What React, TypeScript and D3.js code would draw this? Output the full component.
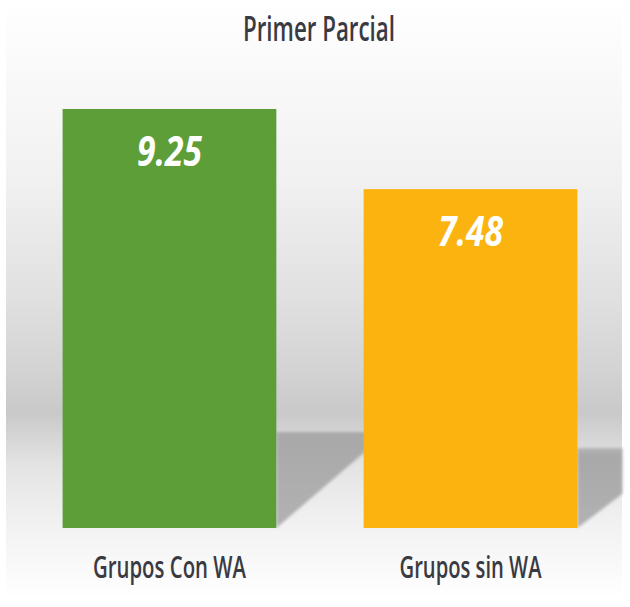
import React, { useEffect, useRef } from "react";
import * as d3 from "d3";

const categories = ["Grupos Con WA", "Grupos sin WA"];
const values = [9.25, 7.48];
const colors = ["#5d9e38", "#fbb30f"];
const title = "Primer Parcial";

const width = 630;
const height = 607;
const baseY = 528;

export default function App() {
  const ref = useRef<SVGSVGElement>(null);

  useEffect(() => {
    const svg = d3.select(ref.current);
    svg.selectAll("*").remove();

    const x = d3
      .scaleBand()
      .domain(categories)
      .range([20, 620])
      .paddingInner(0.29)
      .paddingOuter(0.1415);
    const y = d3.scaleLinear().domain([0, 10]).range([baseY, 75]);

    const defs = svg.append("defs");
    const bg = defs
      .append("linearGradient")
      .attr("id", "bg")
      .attr("x1", "0")
      .attr("y1", "0")
      .attr("x2", "0")
      .attr("y2", "1");
    [
      [0, "#ffffff"],
      [0.3, "#f1f1f1"],
      [0.5, "#e0e0e0"],
      [0.62, "#d3d3d3"],
      [0.69, "#c9c9c9"],
      [0.78, "#e4e4e4"],
      [0.88, "#f2f2f2"],
      [1, "#ffffff"],
    ].forEach(([o, c]) => bg.append("stop").attr("offset", o).attr("stop-color", c));

    const sh = defs
      .append("linearGradient")
      .attr("id", "shadow")
      .attr("x1", "0")
      .attr("y1", "0")
      .attr("x2", "0")
      .attr("y2", "1");
    sh.append("stop").attr("offset", 0).attr("stop-color", "#b4b4b4");
    sh.append("stop").attr("offset", 0.1).attr("stop-color", "#a8a8a8");
    sh.append("stop").attr("offset", 1).attr("stop-color", "#b2b2b2");

    defs
      .append("filter")
      .attr("id", "blur")
      .append("feGaussianBlur")
      .attr("stdDeviation", 1.8);

    svg
      .append("rect")
      .attr("x", 6)
      .attr("y", 0)
      .attr("width", 616)
      .attr("height", 598)
      .attr("fill", "url(#bg)");

    // shadows cast behind the bars
    const shadowW = [120, 45];
    const shadowTop = [432, 448];
    const shadowSlope = [0.86, 0.76];
    categories.forEach((c, i) => {
      const x1 = (x(c) as number) + x.bandwidth();
      const w = shadowW[i];
      const pts: [number, number][] = [
        [x1, shadowTop[i]],
        [x1 + w, shadowTop[i]],
        [x1 + w, baseY - w * shadowSlope[i]],
        [x1, baseY],
      ];
      svg
        .append("path")
        .attr("d", d3.line()(pts) + "Z")
        .attr("fill", "url(#shadow)")
        .attr("filter", "url(#blur)");
    });

    svg
      .selectAll("rect.bar")
      .data(values)
      .enter()
      .append("rect")
      .attr("class", "bar")
      .attr("x", (d, i) => x(categories[i]) as number)
      .attr("y", (d) => y(d))
      .attr("width", x.bandwidth())
      .attr("height", (d) => baseY - y(d))
      .attr("fill", (d, i) => colors[i]);

    svg
      .selectAll("text.val")
      .data(values)
      .enter()
      .append("text")
      .attr("class", "val")
      .attr("x", (d, i) => (x(categories[i]) as number) + x.bandwidth() / 2)
      .attr("y", (d) => y(d) + 57)
      .attr("text-anchor", "middle")
      .attr("textLength", 65)
      .attr("lengthAdjust", "spacingAndGlyphs")
      .style("font", "italic bold 42px 'Open Sans', sans-serif")
      .style("fill", "#ffffff")
      .text((d) => d.toFixed(2));

    svg
      .selectAll("text.cat")
      .data(categories)
      .enter()
      .append("text")
      .attr("class", "cat")
      .attr("x", (d) => (x(d) as number) + x.bandwidth() / 2)
      .attr("y", 578)
      .attr("text-anchor", "middle")
      .attr("textLength", (d, i) => (i === 0 ? 153 : 142))
      .attr("lengthAdjust", "spacingAndGlyphs")
      .style("font", "600 31px 'Open Sans', sans-serif")
      .style("fill", "#3a3a42")
      .text((d) => d);

    svg
      .append("text")
      .attr("x", 319)
      .attr("y", 41)
      .attr("text-anchor", "middle")
      .attr("textLength", 152)
      .attr("lengthAdjust", "spacingAndGlyphs")
      .style("font", "600 34px 'Open Sans', sans-serif")
      .style("fill", "#3a3a42")
      .text(title);
  }, []);

  return (
    <svg
      ref={ref}
      width={width}
      height={height}
      style={{ position: "absolute", left: 0, top: 0, background: "#fff" }}
    />
  );
}
